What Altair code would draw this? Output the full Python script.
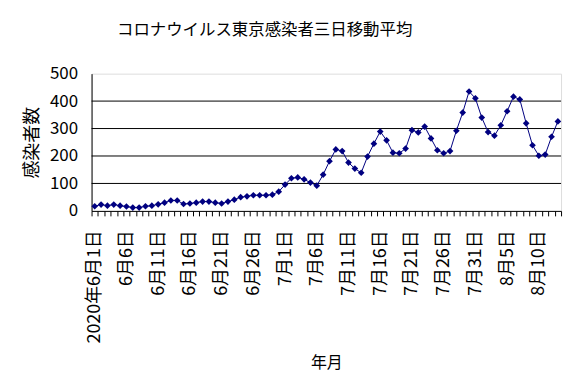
import json
import altair as alt
import pandas as pd

# ---- data ----
months = [6] * 30 + [7] * 31 + [8] * 13
days = list(range(1, 31)) + list(range(1, 32)) + list(range(1, 14))
dates = ["2020年6月1日"] + [f"{m}月{d}日" for m, d in zip(months[1:], days[1:])]

values = [17, 23, 19, 23, 19, 16, 12, 12, 17, 19,
          24, 30, 38, 38, 25, 27, 30, 34, 34, 30,
          27, 34, 41, 50, 53, 57, 57, 57, 59, 70,
          96, 119, 122, 115, 103, 92, 132, 181, 224, 218,
          176, 154, 139, 198, 245, 289, 257, 212, 210, 227,
          294, 286, 307, 264, 221, 210, 218, 292, 358, 435,
          410, 340, 287, 274, 312, 363, 416, 406, 319, 239,
          201, 205, 270, 326]

shown_labels = dates[::5]
grid_values = [100, 200, 300, 400]
y_ticks = [0, 100, 200, 300, 400, 500]

df = pd.DataFrame({"date": dates, "value": values})
grid_df = pd.DataFrame({"g": grid_values})

FONT = "Noto Sans CJK JP"
label_expr = "indexof(" + json.dumps(shown_labels, ensure_ascii=False) + ", datum.value) >= 0 ? datum.value : ''"

x_enc = alt.X(
    "date:N", sort=dates,
    scale=alt.Scale(type="band", paddingInner=0, paddingOuter=0),
    axis=alt.Axis(title="年月", labelAngle=-90, labelExpr=label_expr,
                  labelOverlap=False, labelFontSize=18, labelFont=FONT,
                  labelPadding=14, tickSize=5, tickBand="extent",
                  tickColor="black", domainColor="black",
                  titleFont=FONT, titleFontSize=16, titleFontWeight="normal",
                  titlePadding=11, grid=False, labelColor="black", titleColor="black"),
)
y_scale = alt.Scale(domain=[0, 500], nice=False)
y_axis = alt.Axis(title="感染者数", values=y_ticks, grid=False, ticks=False,
                  labelOverlap=False,
                  labelFont=FONT, labelFontSize=17, labelPadding=14,
                  domainColor="black", labelColor="black",
                  titleFont=FONT, titleFontSize=18, titleFontWeight="normal",
                  titlePadding=8, titleColor="black")

grid = alt.Chart(grid_df).mark_rule(color="black", strokeWidth=1).encode(
    y=alt.Y("g:Q", scale=y_scale, axis=y_axis)
)

line = alt.Chart(df).mark_line(
    color="#000080", strokeWidth=1,
    point=alt.OverlayMarkDef(shape="diamond", size=45, filled=True, color="#000080", opacity=1),
).encode(
    x=x_enc,
    y=alt.Y("value:Q", scale=y_scale, axis=y_axis),
)

chart = alt.layer(grid, line).properties(
    width=472, height=138,
    padding={"left": 15, "top": 13, "right": 5, "bottom": 5},
    title=alt.TitleParams("コロナウイルス東京感染者三日移動平均", font=FONT, fontSize=16.5,
                          fontWeight="normal", color="black", offset=26, dx=-62),
).configure_view(stroke="#808080", strokeDash=[1, 1]).configure(background="white")

chart.save("out.html", embed_options={"renderer": "svg", "actions": False})
